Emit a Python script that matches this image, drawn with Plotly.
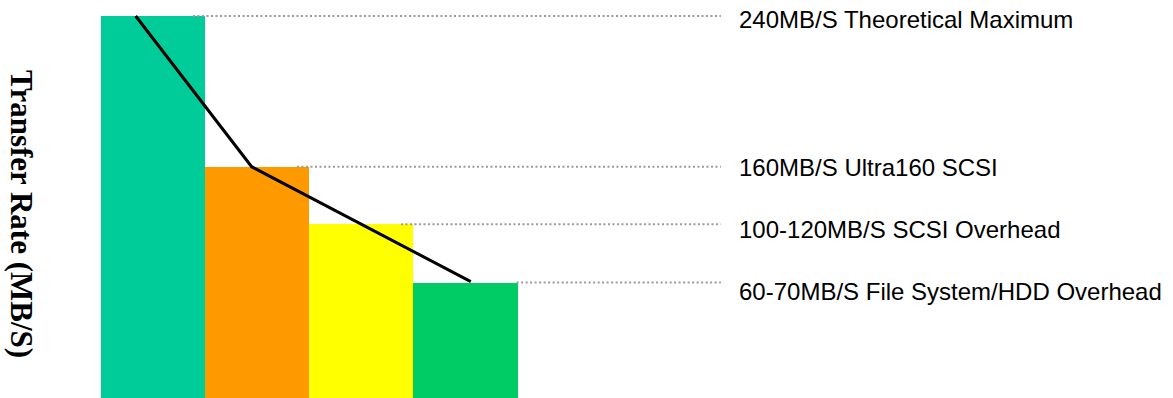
import plotly.graph_objects as go

# Data
categories = [0, 1, 2, 3]
rates = [240, 160, 129.5, 98.5]
bar_colors = ["#00CC99", "#FF9900", "#FFFF00", "#00CC66"]

trend_x = [-0.166, 0.947, 3.05]
trend_y = [240, 160, 99]

labels = [
    "240MB/S Theoretical Maximum",
    "160MB/S Ultra160 SCSI",
    "100-120MB/S SCSI Overhead",
    "60-70MB/S File System/HDD Overhead",
]
guide_start = [0.384, 1.382, 2.38, 3.49]
guide_end = 5.45
label_x = 5.605
label_y = [237.9, 159.5, 126.4, 93.8]

fig = go.Figure()
fig.add_trace(go.Bar(x=categories, y=rates, width=1, marker=dict(color=bar_colors, line=dict(width=0)),
                     showlegend=False, hoverinfo="skip"))

for xs, v in zip(guide_start, rates):
    fig.add_trace(go.Scatter(x=[xs, guide_end], y=[v, v], mode="lines",
                             line=dict(color="#9a9a9a", width=2, dash="2px,2.5px"),
                             showlegend=False, hoverinfo="skip"))

fig.add_trace(go.Scatter(x=trend_x, y=trend_y, mode="lines",
                         line=dict(color="black", width=3), showlegend=False, hoverinfo="skip"))

for t, y in zip(labels, label_y):
    fig.add_annotation(x=label_x, y=y, xref="x", yref="y", text=t, showarrow=False,
                       xanchor="left", yanchor="middle",
                       font=dict(family="Liberation Sans, Arial", size=24, color="black"))

fig.add_annotation(x=22 / 1173, y=1 - 214 / 398, xref="paper", yref="paper",
                   text="<b>Transfer Rate (MB/S)</b>",
                   showarrow=False, textangle=90, xanchor="center", yanchor="middle",
                   font=dict(family="Liberation Serif, Times New Roman", size=31, color="black"))

fig.update_layout(
    width=1173, height=398,
    margin=dict(l=0, r=0, t=0, b=0),
    paper_bgcolor="white", plot_bgcolor="white",
    xaxis=dict(range=[-1.468, 9.789], visible=False, fixedrange=True),
    yaxis=dict(range=[37.2, 248.5], visible=False, fixedrange=True),
    bargap=0,
)

fig.write_html("out.html")
